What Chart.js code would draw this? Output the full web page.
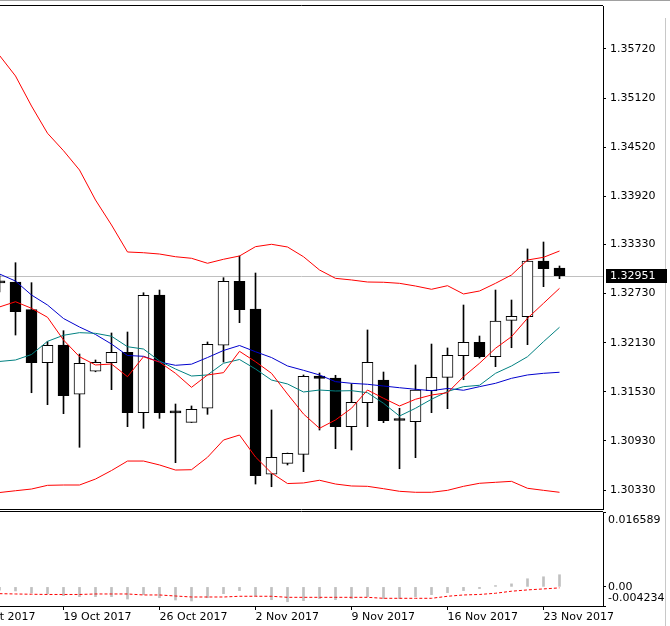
<!DOCTYPE html>
<html>
<head>
<meta charset="utf-8">
<script src="https://cdn.jsdelivr.net/npm/chart.js@4.4.0/dist/chart.umd.min.js"></script>
<style>
  html, body { margin: 0; padding: 0; background: #fff; }
  #wrap { position: relative; width: 670px; height: 626px; overflow: hidden; }
  #priceCanvas { position: absolute; left: 0; top: 0; }
  #macdCanvas { position: absolute; left: 0; top: 510px; }
  .edgeTop { position: absolute; left: 0; top: 0; width: 670px; height: 1px; background: #a0a0a0; }
  .edgeRight { position: absolute; left: 665px; top: 18px; width: 1px; height: 608px; background: #c8c8c8; }
</style>
</head>
<body>
<div id="wrap">
  <div class="edgeTop"></div>
  <div class="edgeRight"></div>
  <canvas id="priceCanvas" width="670" height="510"></canvas>
  <canvas id="macdCanvas" width="670" height="116"></canvas>
</div>
<script>
// Daily bars, 15 Oct 2017 (Sunday bar) .. 24 Nov 2017
const opens = [1.32870, 1.32872, 1.32534, 1.31886, 1.32102, 1.31500, 1.31781, 1.31886, 1.32013, 1.31275,
  1.32713, 1.31277, 1.31157, 1.31329, 1.32099, 1.32881, 1.32542, 1.30522, 1.30656, 1.30766,
  1.31723, 1.31699, 1.31104, 1.31397, 1.31674, 1.31184, 1.31165, 1.31544, 1.31707, 1.31971,
  1.32135, 1.31959, 1.32404, 1.32448, 1.33129, 1.33043];
const highs = [1.32950, 1.33108, 1.32864, 1.32143, 1.32277, 1.31992, 1.31919, 1.32249, 1.32261, 1.32741,
  1.32774, 1.31381, 1.31357, 1.32139, 1.32925, 1.33190, 1.32982, 1.31308, 1.30782, 1.31736,
  1.31760, 1.31732, 1.31629, 1.32286, 1.31772, 1.31329, 1.31858, 1.32114, 1.32066, 1.32591,
  1.32212, 1.32774, 1.32652, 1.33276, 1.33361, 1.33068];
const lows = [1.32750, 1.32224, 1.31519, 1.31373, 1.31263, 1.30852, 1.31775, 1.31556, 1.31104, 1.31084,
  1.31206, 1.30664, 1.31155, 1.31255, 1.31894, 1.32375, 1.30403, 1.30370, 1.30636, 1.30554,
  1.31063, 1.30835, 1.30819, 1.31104, 1.31153, 1.30590, 1.30725, 1.31275, 1.31324, 1.31678,
  1.31943, 1.31837, 1.32069, 1.32106, 1.32815, 1.32913];
const closes = [1.32862, 1.32509, 1.31886, 1.32099, 1.31483, 1.31879, 1.31891, 1.32013, 1.31275, 1.32710,
  1.31275, 1.31272, 1.31316, 1.32111, 1.32881, 1.32534, 1.30505, 1.30730, 1.30779, 1.31720,
  1.31695, 1.31104, 1.31402, 1.31891, 1.31177, 1.31179, 1.31552, 1.31707, 1.31976, 1.32135,
  1.31959, 1.32396, 1.32453, 1.33129, 1.33035, 1.32951];

// Indicator lines
const bandUpper = [1.35641, 1.35390, 1.35023, 1.34690, 1.34477, 1.34241, 1.33874, 1.33569, 1.33239, 1.33230,
  1.33214, 1.33181, 1.33162, 1.33101, 1.33150, 1.33190, 1.33304, 1.33333, 1.33300, 1.33181,
  1.33019, 1.32917, 1.32897, 1.32872, 1.32869, 1.32856, 1.32823, 1.32783, 1.32827, 1.32726,
  1.32762, 1.32856, 1.32958, 1.33141, 1.33174, 1.33251];
const bandLower = [1.30299, 1.30321, 1.30342, 1.30387, 1.30391, 1.30391, 1.30464, 1.30568, 1.30684, 1.30684,
  1.30636, 1.30574, 1.30578, 1.30730, 1.30941, 1.31002, 1.30733, 1.30538, 1.30409, 1.30416,
  1.30449, 1.30403, 1.30379, 1.30375, 1.30346, 1.30314, 1.30302, 1.30302, 1.30326, 1.30375,
  1.30412, 1.30424, 1.30436, 1.30351, 1.30326, 1.30302];
const maFast = [1.32567, 1.32631, 1.32551, 1.32441, 1.32163, 1.31959, 1.31858, 1.31870, 1.31715, 1.31959,
  1.31894, 1.31756, 1.31585, 1.31736, 1.31764, 1.32025, 1.31898, 1.31756, 1.31503, 1.31259,
  1.31084, 1.31186, 1.31329, 1.31552, 1.31451, 1.31357, 1.31439, 1.31491, 1.31519, 1.31715,
  1.31879, 1.32062, 1.32204, 1.32429, 1.32612, 1.32795];
const maMid = [1.31901, 1.31919, 1.31986, 1.32147, 1.32221, 1.32253, 1.32245, 1.32209, 1.32081, 1.32053,
  1.31907, 1.31809, 1.31723, 1.31736, 1.31879, 1.31925, 1.31809, 1.31674, 1.31626, 1.31528,
  1.31552, 1.31540, 1.31544, 1.31519, 1.31390, 1.31234, 1.31329, 1.31439, 1.31534, 1.31593,
  1.31610, 1.31756, 1.31846, 1.31959, 1.32143, 1.32319];
const maSlow = [1.32970, 1.32884, 1.32713, 1.32591, 1.32426, 1.32322, 1.32231, 1.32114, 1.31974, 1.31964,
  1.31894, 1.31854, 1.31868, 1.31949, 1.32035, 1.32096, 1.32020, 1.31949, 1.31846, 1.31793,
  1.31736, 1.31654, 1.31634, 1.31622, 1.31601, 1.31580, 1.31561, 1.31544, 1.31571, 1.31549,
  1.31593, 1.31634, 1.31695, 1.31736, 1.31756, 1.31769];

// MACD panel
const macdHist = [-0.00070, -0.00090, -0.00134, -0.00150, -0.00194, -0.00216, -0.00216, -0.00216, -0.00269, -0.00172,
  -0.00240, -0.00291, -0.00313, -0.00240, -0.00150, -0.00082, -0.00200, -0.00284, -0.00329, -0.00306,
  -0.00260, -0.00284, -0.00260, -0.00216, -0.00260, -0.00260, -0.00216, -0.00172, -0.00127, -0.00082,
  -0.00037, 0.00030, 0.00067, 0.00180, 0.00224, 0.00269];
const macdSignal = [-0.00150, -0.00157, -0.00163, -0.00168, -0.00168, -0.00168, -0.00157, -0.00157, -0.00157, -0.00179,
  -0.00179, -0.00202, -0.00224, -0.00224, -0.00224, -0.00208, -0.00208, -0.00208, -0.00231, -0.00231,
  -0.00231, -0.00231, -0.00231, -0.00231, -0.00253, -0.00253, -0.00253, -0.00253, -0.00208, -0.00179,
  -0.00168, -0.00141, -0.00096, -0.00067, -0.00045, -0.00022];

// Axis labels
const priceTicks = [1.30330, 1.30930, 1.31530, 1.32130, 1.32730, 1.33330, 1.33920, 1.34520, 1.35120, 1.35720];
const macdTicks = [0.016589, 0.00, -0.004234];
const macdTickText = ['0.016589', '0.00', '-0.004234'];
const dateTickIdx = [-2, 4, 10, 16, 22, 28, 34];
const dateTickText = ['12 Oct 2017', '19 Oct 2017', '26 Oct 2017', '2 Nov 2017', '9 Nov 2017', '16 Nov 2017', '23 Nov 2017'];

const FONT = { family: 'DejaVu Sans', size: 11 };
const X_MIN = 0.03125;
const X_MAX = 37.71875;

const pts = arr => arr.map((v, i) => ({ x: i, y: v }));

function lineSet(data, color) {
  return {
    type: 'line',
    data: pts(data),
    borderColor: color,
    borderWidth: 1,
    pointRadius: 0,
    tension: 0,
    order: 0
  };
}

// Frame lines above and below the plot area
const framePlugin = {
  id: 'frame',
  afterDraw(chart) {
    const { ctx, chartArea } = chart;
    ctx.save();
    ctx.strokeStyle = '#000';
    ctx.lineWidth = 1;
    ctx.beginPath();
    ctx.moveTo(0, chartArea.top - 0.5);
    ctx.lineTo(chartArea.right, chartArea.top - 0.5);
    if (chart.canvas.id === 'priceCanvas') {
      ctx.moveTo(0, chartArea.bottom + 0.5);
      ctx.lineTo(chartArea.right, chartArea.bottom + 0.5);
    }
    ctx.stroke();
    ctx.restore();
  }
};

// Last price line and its black label
const lastPricePlugin = {
  id: 'lastPrice',
  beforeDatasetsDraw(chart) {
    const { ctx, chartArea } = chart;
    const y = Math.round(chart.scales.y.getPixelForValue(closes[closes.length - 1])) + 0.5;
    ctx.save();
    ctx.strokeStyle = '#c0c0c0';
    ctx.lineWidth = 1;
    ctx.beginPath();
    ctx.moveTo(chartArea.left, y);
    ctx.lineTo(chartArea.right, y);
    ctx.stroke();
    ctx.restore();
  },
  afterDraw(chart) {
    const { ctx, chartArea } = chart;
    const last = closes[closes.length - 1];
    const y = Math.round(chart.scales.y.getPixelForValue(last));
    ctx.save();
    ctx.fillStyle = '#000';
    ctx.fillRect(chartArea.right + 3, y - 7, 61, 14);
    ctx.fillStyle = '#fff';
    ctx.font = '11px "DejaVu Sans"';
    ctx.textBaseline = 'middle';
    ctx.fillText(last.toFixed(5), chartArea.right + 7, y + 0.5);
    ctx.restore();
  }
};

// MACD axis labels are kept inside the panel like the terminal does
const macdLabelPlugin = {
  id: 'macdLabels',
  afterDraw(chart) {
    const { ctx, chartArea } = chart;
    const scale = chart.scales.y;
    ctx.save();
    ctx.fillStyle = '#000';
    ctx.font = '11px "DejaVu Sans"';
    ctx.textBaseline = 'middle';
    macdTicks.forEach((v, i) => {
      let y = scale.getPixelForValue(v);
      y = Math.min(Math.max(y, chartArea.top + 8), chartArea.bottom - 8);
      ctx.fillText(macdTickText[i], chartArea.right + 5, y);
    });
    ctx.restore();
  }
};

new Chart(document.getElementById('priceCanvas'), {
  type: 'bar',
  data: {
    datasets: [
      lineSet(bandUpper, '#ff0000'),
      lineSet(bandLower, '#ff0000'),
      lineSet(maFast, '#ff0000'),
      lineSet(maMid, '#008080'),
      lineSet(maSlow, '#0000cd'),
      {
        // candle bodies
        data: opens.map((o, i) => ({ x: i, y: [o, closes[i]] })),
        backgroundColor: closes.map((c, i) => (c > opens[i] ? '#ffffff' : '#000000')),
        borderColor: '#000',
        borderWidth: 1,
        borderSkipped: false,
        barThickness: 11,
        minBarLength: 2,
        grouped: false,
        order: 1
      },
      {
        // wicks
        data: lows.map((l, i) => ({ x: i, y: [l, highs[i]] })),
        backgroundColor: '#000',
        barThickness: 1,
        grouped: false,
        order: 2
      }
    ]
  },
  options: {
    responsive: false,
    animation: false,
    layout: { padding: { top: 6, bottom: 1, left: 0, right: 0 } },
    plugins: { legend: { display: false }, tooltip: { enabled: false } },
    scales: {
      x: { type: 'linear', min: X_MIN, max: X_MAX, offset: false, display: false },
      y: {
        position: 'right',
        min: 1.300978,
        max: 1.362454,
        afterBuildTicks: s => { s.ticks = priceTicks.map(v => ({ value: v })); },
        afterFit: s => { s.width = 67; s.paddingTop = 0; s.paddingBottom = 0; },
        ticks: { callback: v => v.toFixed(5), color: '#000', font: FONT, padding: 4 },
        grid: { drawOnChartArea: false, tickLength: 3, color: '#000' },
        border: { color: '#000' }
      }
    }
  },
  plugins: [framePlugin, lastPricePlugin]
});

new Chart(document.getElementById('macdCanvas'), {
  type: 'bar',
  data: {
    datasets: [
      {
        type: 'line',
        data: pts(macdSignal),
        borderColor: '#ff0000',
        borderWidth: 1,
        borderDash: [3, 2],
        pointRadius: 0,
        order: 0
      },
      {
        data: pts(macdHist),
        backgroundColor: '#c0c0c0',
        barThickness: 2,
        grouped: false,
        order: 1
      }
    ]
  },
  options: {
    responsive: false,
    animation: false,
    layout: { padding: { top: 2, bottom: 0, left: 0, right: 0 } },
    plugins: { legend: { display: false }, tooltip: { enabled: false } },
    scales: {
      x: {
        type: 'linear',
        min: X_MIN,
        max: X_MAX,
        offset: false,
        afterBuildTicks: s => { s.ticks = dateTickIdx.map(v => ({ value: v })); },
        afterFit: s => { s.height = 20; s.paddingLeft = 0; s.paddingRight = 0; },
        ticks: {
          callback: (v, i) => dateTickText[i],
          align: 'start',
          autoSkip: false,
          maxRotation: 0,
          color: '#000',
          font: FONT,
          padding: 1
        },
        grid: { drawOnChartArea: false, offset: false, tickLength: 4, color: '#000' },
        border: { color: '#000' }
      },
      y: {
        position: 'right',
        min: -0.004234,
        max: 0.016589,
        afterBuildTicks: s => { s.ticks = macdTicks.map(v => ({ value: v })); },
        afterFit: s => { s.width = 67; s.paddingTop = 0; s.paddingBottom = 0; },
        ticks: { display: false },
        grid: { drawOnChartArea: false, tickLength: 3, color: '#000' },
        border: { color: '#000' }
      }
    }
  },
  plugins: [framePlugin, macdLabelPlugin]
});
</script>
</body>
</html>
